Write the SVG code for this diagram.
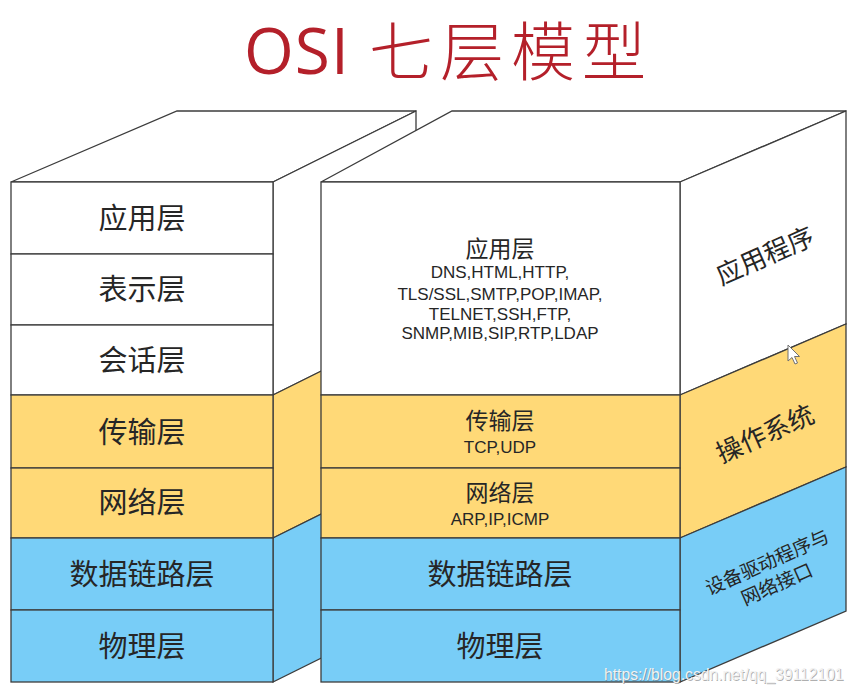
<svg xmlns="http://www.w3.org/2000/svg" width="854" height="693" viewBox="0 0 854 693">
<style>
.edge{stroke:#3c3c3c;stroke-width:1.3;stroke-linejoin:miter}
.w{fill:#ffffff}
.y{fill:#ffd977}
.b{fill:#78cdf7}
.cn{font-family:"Noto Sans CJK SC","Noto Sans",sans-serif;fill:#262626;text-anchor:middle}
.big{font-size:29px}
.mid{font-size:23px}
.side{font-size:26px}
.small{font-size:19px}
.proto{font-family:"Liberation Sans",Arial,sans-serif;font-size:17px;fill:#262626;text-anchor:middle}
</style>
<rect width="854" height="693" fill="#ffffff"/>
<g id="title">
<text x="244" y="74" font-family="'Open Sans','Liberation Sans',sans-serif" font-size="64" fill="#b4202a" letter-spacing="1">OSI</text>
<text x="511" y="74.5" font-family="'Noto Sans CJK SC',sans-serif" font-size="64" font-weight="300" fill="#b4202a" text-anchor="middle" letter-spacing="7">七层模型</text>
</g>
<g id="left-stack">
<g id="left-top"><polygon class="w edge" points="11,182 177,111 416,111 273,182"/></g>
<g id="left-side">
<polygon class="w edge" points="273,182 416,111 416,324 273,395"/>
<polygon class="y edge" points="273,395 416,324 416,467 273,538"/>
<polygon class="b edge" points="273,538 416,467 416,611 273,682"/>
</g>
<g id="l-app"><rect class="w edge" x="11" y="182" width="262" height="72"/><text class="cn big" x="142" y="229">应用层</text></g>
<g id="l-pres"><rect class="w edge" x="11" y="254" width="262" height="71"/><text class="cn big" x="142" y="300">表示层</text></g>
<g id="l-sess"><rect class="w edge" x="11" y="325" width="262" height="70"/><text class="cn big" x="142" y="371">会话层</text></g>
<g id="l-trans"><rect class="y edge" x="11" y="395" width="262" height="73"/><text class="cn big" x="142" y="443">传输层</text></g>
<g id="l-net"><rect class="y edge" x="11" y="468" width="262" height="70"/><text class="cn big" x="142" y="513">网络层</text></g>
<g id="l-link"><rect class="b edge" x="11" y="538" width="262" height="72"/><text class="cn big" x="142" y="585">数据链路层</text></g>
<g id="l-phys"><rect class="b edge" x="11" y="610" width="262" height="72"/><text class="cn big" x="142" y="657">物理层</text></g>
</g>
<g id="right-stack">
<g id="right-top"><polygon class="w edge" points="321,182 452,111 846,111 680,182"/></g>
<g id="right-side-app">
<polygon class="w edge" points="680,182 846,111 846,324 680,395"/>
<text class="cn side" x="765" y="265" transform="rotate(-24 765 256)">应用程序</text>
</g>
<g id="right-side-os">
<polygon class="y edge" points="680,395 846,324 846,467 680,538"/>
<text class="cn side" x="765" y="443" transform="rotate(-24 765 434)">操作系统</text>
</g>
<g id="right-side-drv">
<polygon class="b edge" points="680,538 846,467 846,611 680,682"/>
<g transform="rotate(-24 772 573)">
<text class="cn small" x="772" y="568">设备驱动程序与</text>
<text class="cn small" x="772" y="592">网络接口</text>
</g>
</g>
<g id="r-app"><rect class="w edge" x="321" y="182" width="359" height="213"/>
<text class="cn mid" x="500" y="257">应用层</text>
<text class="proto" x="500" y="278">DNS,HTML,HTTP,</text>
<text class="proto" x="500" y="300">TLS/SSL,SMTP,POP,IMAP,</text>
<text class="proto" x="500" y="320">TELNET,SSH,FTP,</text>
<text class="proto" x="500" y="339">SNMP,MIB,SIP,RTP,LDAP</text>
</g>
<g id="r-trans"><rect class="y edge" x="321" y="395" width="359" height="73"/>
<text class="cn mid" x="500" y="429">传输层</text>
<text class="proto" x="500" y="453">TCP,UDP</text>
</g>
<g id="r-net"><rect class="y edge" x="321" y="468" width="359" height="70"/>
<text class="cn mid" x="500" y="501">网络层</text>
<text class="proto" x="500" y="525">ARP,IP,ICMP</text>
</g>
<g id="r-link"><rect class="b edge" x="321" y="538" width="359" height="72"/><text class="cn big" x="500" y="585">数据链路层</text></g>
<g id="r-phys"><rect class="b edge" x="321" y="610" width="359" height="72"/><text class="cn big" x="500" y="657">物理层</text></g>
</g>
<g id="cursor">
<path d="M788,345 L788,361 L792,357.5 L795,364 L797.5,363 L794.5,356.5 L799.5,356.5 Z" fill="#ffffff" stroke="#707070" stroke-width="1"/>
</g>
<g id="watermark" font-family="'Liberation Sans',Arial,sans-serif" font-size="15.7">
<text x="604.8" y="680.8" fill="#6a6a6a" fill-opacity="0.55">https://blog.csdn.net/qq_39112101</text>
<text x="604" y="680" fill="#f2f2f2">https://blog.csdn.net/qq_39112101</text>
</g>
</svg>
